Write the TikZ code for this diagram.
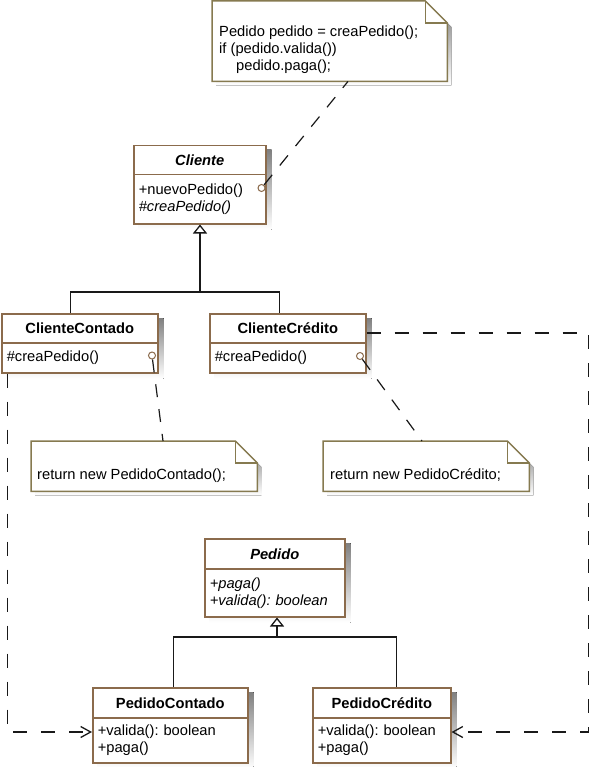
\documentclass[tikz,border=0pt]{standalone}
\usepackage{fontspec}
\setmainfont{Liberation Sans}
\usetikzlibrary{arrows.meta,backgrounds}
\frenchspacing

\definecolor{classline}{RGB}{139,107,76}
\definecolor{noteline}{RGB}{134,122,80}
\definecolor{shade}{RGB}{182,182,182}
\definecolor{ink}{RGB}{25,25,25}

\tikzset{
  txt/.style={font=\fontsize{14.7pt}{17pt}\selectfont},
  umlbox/.style={draw=classline, line width=1.5pt, fill=white, anchor=north west, inner sep=0pt},
  umlhead/.style={umlbox, font=\fontsize{14.7pt}{17pt}\selectfont\bfseries},
  umlbody/.style={umlbox, txt, inner xsep=5pt, align=left},
  anchorcirc/.style={circle, draw=classline, fill=white, line width=1pt, minimum size=7pt, inner sep=0pt},
  notebox/.style={anchor=north west, inner sep=0pt},
  notetext/.style={txt, inner sep=0pt, align=left},
  dep/.style={draw=ink, line width=1.3pt, dash pattern=on 14pt off 14pt,
    -{Straight Barb[length=10pt,width=11pt]}},
  gen/.style={draw=ink, line width=1.3pt},
  genarrow/.style={gen, -{Triangle[open, length=9pt, width=14pt]}},
  notelink/.style={draw=ink, line width=1.2pt, dash pattern=on 13pt off 12pt},
  notefill/.style={fill=white, draw=noteline, line width=1.5pt, line join=miter},
}

% grey offset shadow behind a class (header node and operations node)
\newcommand{\classshadow}[2]{%
  \fill[shade] ([shift={(5pt,-5pt)}]#1.north west) rectangle ([shift={(5pt,-5pt)}]#2.south east);
}

% folded-corner note frame with its shadow, around a frame node
\newcommand{\drawnote}[1]{%
  \fill[shade] ([shift={(4pt,-4pt)}]#1.north west) -- ([shift={(-18pt,-4pt)}]#1.north east)
    -- ([shift={(4pt,-26pt)}]#1.north east) -- ([shift={(4pt,-4pt)}]#1.south east)
    -- ([shift={(4pt,-4pt)}]#1.south west) -- cycle;
  \path[notefill] (#1.north west) -- ([xshift=-22pt]#1.north east)
    -- ([yshift=-22pt]#1.north east) -- (#1.south east) -- (#1.south west) -- cycle;
  \draw[noteline, line width=1.2pt] ([xshift=-22pt]#1.north east)
    -- ([xshift=-22pt, yshift=-22pt]#1.north east) -- ([yshift=-22pt]#1.north east);
}

\begin{document}
\begin{tikzpicture}[x=1pt, y=-1pt]
\useasboundingbox (0,0) rectangle (590,767);

% ---- classes ----
\node[umlhead, minimum width=132pt, minimum height=29pt] (cliente) at (133,145) {\textit{Cliente}};
\node[umlbody, minimum width=132pt, text width=122pt, minimum height=49pt] (clienteops) at (133,174)
  {+nuevoPedido()\\\textit{\#creaPedido()}};

\node[umlhead, minimum width=156pt, minimum height=29pt] (clicontado) at (1,313) {ClienteContado};
\node[umlbody, minimum width=156pt, text width=146pt, minimum height=30pt] (clicontadoops) at (1,342)
  {\#creaPedido()};

\node[umlhead, minimum width=156pt, minimum height=29pt] (clicredito) at (209,313) {ClienteCrédito};
\node[umlbody, minimum width=156pt, text width=146pt, minimum height=30pt] (clicreditoops) at (209,342)
  {\#creaPedido()};

\node[umlhead, minimum width=140pt, minimum height=30pt] (pedido) at (204,538) {\textit{Pedido}};
\node[umlbody, minimum width=140pt, text width=130pt, minimum height=48pt] (pedidoops) at (204,568)
  {\textit{+paga()}\\\textit{+valida(): boolean}};

\node[umlhead, minimum width=155pt, minimum height=30pt] (pedcontado) at (92,687) {PedidoContado};
\node[umlbody, minimum width=155pt, text width=145pt, minimum height=45pt] (pedcontadoops) at (92,717)
  {+valida(): boolean\\+paga()};

\node[umlhead, minimum width=138pt, minimum height=30pt] (pedcredito) at (312,687) {PedidoCrédito};
\node[umlbody, minimum width=138pt, text width=128pt, minimum height=45pt] (pedcreditoops) at (312,717)
  {+valida(): boolean\\+paga()};

% note attachment points on the operations
\node[anchorcirc] (clicirc) at (261.5,188) {};
\node[anchorcirc] (cccirc) at (152,355.5) {};
\node[anchorcirc] (ccrcirc) at (360,356) {};

% ---- notes ----
\node[notebox, minimum width=235pt, minimum height=80pt] (nota) at (212,1) {};
\node[notetext, anchor=north west] (notatxt) at (219,26)
  {Pedido pedido = creaPedido();\\if (pedido.valida())\\\hspace*{17pt}pedido.paga();};

\node[notebox, minimum width=226pt, minimum height=50pt] (notacontado) at (31,441) {};
\node[notetext, anchor=base west] (notacontadotxt) at (37,479) {return new PedidoContado();};

\node[notebox, minimum width=206pt, minimum height=50pt] (notacredito) at (323,441) {};
\node[notetext, anchor=base west] (notacreditotxt) at (330,479) {return new PedidoCrédito;};

\begin{scope}[on background layer]
  \classshadow{cliente}{clienteops}
  \classshadow{clicontado}{clicontadoops}
  \classshadow{clicredito}{clicreditoops}
  \classshadow{pedido}{pedidoops}
  \classshadow{pedcontado}{pedcontadoops}
  \classshadow{pedcredito}{pedcreditoops}
  \drawnote{nota}
  \drawnote{notacontado}
  \drawnote{notacredito}
\end{scope}

% ---- note links ----
\draw[notelink] (clicirc) -- ([xshift=136pt]nota.south west);
\draw[notelink] (cccirc) -- ([xshift=132pt]notacontado.north west);
\draw[notelink] (ccrcirc) -- ([xshift=99pt]notacredito.north west);

% ---- generalisations ----
\coordinate (cj) at (200,292);
\draw[gen] ([xshift=-9pt]clicontado.north) |- (cj) -| ([xshift=-8.5pt]clicredito.north);
\draw[genarrow] (cj) -- (cj |- clienteops.south);

\coordinate (pj) at (277,637);
\draw[gen] ([xshift=3.5pt]pedcontado.north) |- (pj) -| ([xshift=15pt]pedcredito.north);
\draw[genarrow] (pj) -- (pj |- pedidoops.south);

% ---- creation dependencies ----
\coordinate (lc) at (7.5,732);
\coordinate (rc) at (588.5,333);
\draw[dep] (lc |- clicontadoops.south) -- (lc) -- (lc -| pedcontadoops.west);
\draw[dep] (rc -| clicredito.east) -- (rc) |- (lc -| pedcreditoops.east);

\end{tikzpicture}
\end{document}
